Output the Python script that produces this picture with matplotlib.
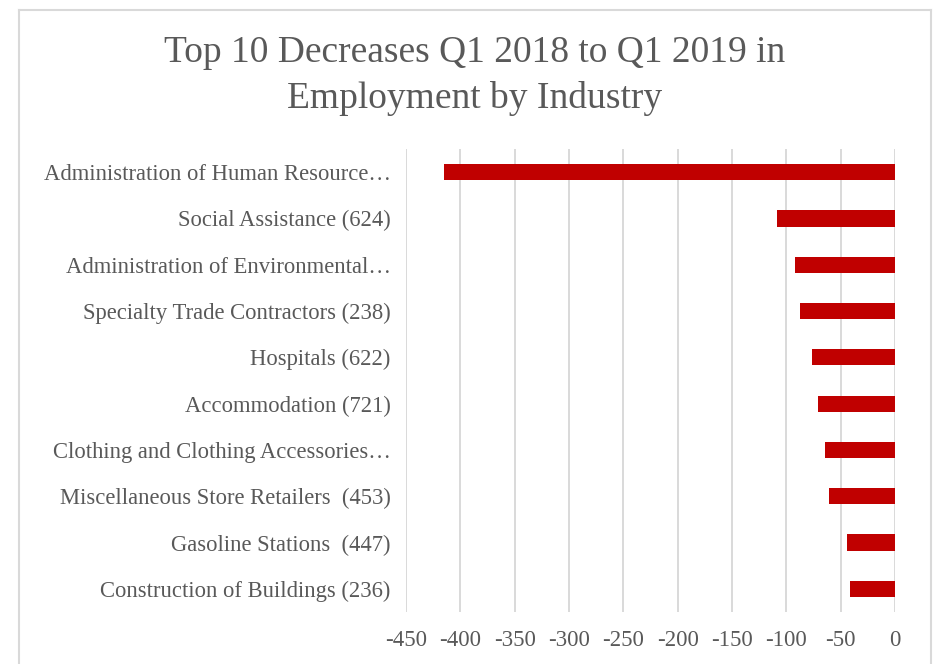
import matplotlib
matplotlib.use("Agg")
import matplotlib.pyplot as plt
from matplotlib.lines import Line2D

# data, top bar first
industrias = ["Administration of Human Resource\u2026",
              "Social Assistance (624)",
              "Administration of Environmental\u2026",
              "Specialty Trade Contractors (238)",
              "Hospitals (622)",
              "Accommodation (721)",
              "Clothing and Clothing Accessories\u2026",
              "Miscellaneous Store Retailers  (453)",
              "Gasoline Stations  (447)",
              "Construction of Buildings (236)"]
variacao = [-415, -109, -92, -87, -76, -71, -64, -61, -44, -41]
ticks_x = [-450, -400, -350, -300, -250, -200, -150, -100, -50, 0]

cinza = "#595959"
plt.rcParams['font.family'] = ['Liberation Serif', 'DejaVu Serif']

fig = plt.figure(figsize=(9.36, 6.64), dpi=100)
ax = fig.add_axes([406/936, 1 - 612/664, 489/936, 463/664])

pos = list(range(len(industrias)))[::-1]
ax.barh(pos, variacao, height=0.35, color="#C00000", zorder=3)

ax.set_xlim(-450, 0)
ax.set_ylim(-0.5, len(industrias) - 0.5)
ax.set_xticks(ticks_x)
ax.set_xticklabels([str(t) for t in ticks_x])
ax.set_yticks(pos)
ax.set_yticklabels(industrias)
ax.grid(axis="x", color="#d9d9d9", linewidth=1.4, zorder=0)
ax.tick_params(axis="both", length=0, colors=cinza)
ax.tick_params(axis="y", pad=11, labelsize=16.3)
ax.tick_params(axis="x", pad=13, labelsize=16.5)
for s in ax.spines.values():
    s.set_visible(False)

# titulo
fig.text(475/936, 1 - 76/664, "Top 10 Decreases Q1 2018 to Q1 2019 in\nEmployment by Industry",
         ha="center", va="center", fontsize=27, color=cinza, linespacing=1.4)

# moldura do grafico
borda = "#d9d9d9"
fig.add_artist(Line2D([19/936, 19/936], [0, 1 - 10/664], color=borda, lw=1.5, transform=fig.transFigure))
fig.add_artist(Line2D([19/936, 931/936], [1 - 10/664, 1 - 10/664], color=borda, lw=1.5, transform=fig.transFigure))
fig.add_artist(Line2D([931/936, 931/936], [0, 1 - 10/664], color=borda, lw=1.5, transform=fig.transFigure))

fig.savefig("out.png", dpi=100)
